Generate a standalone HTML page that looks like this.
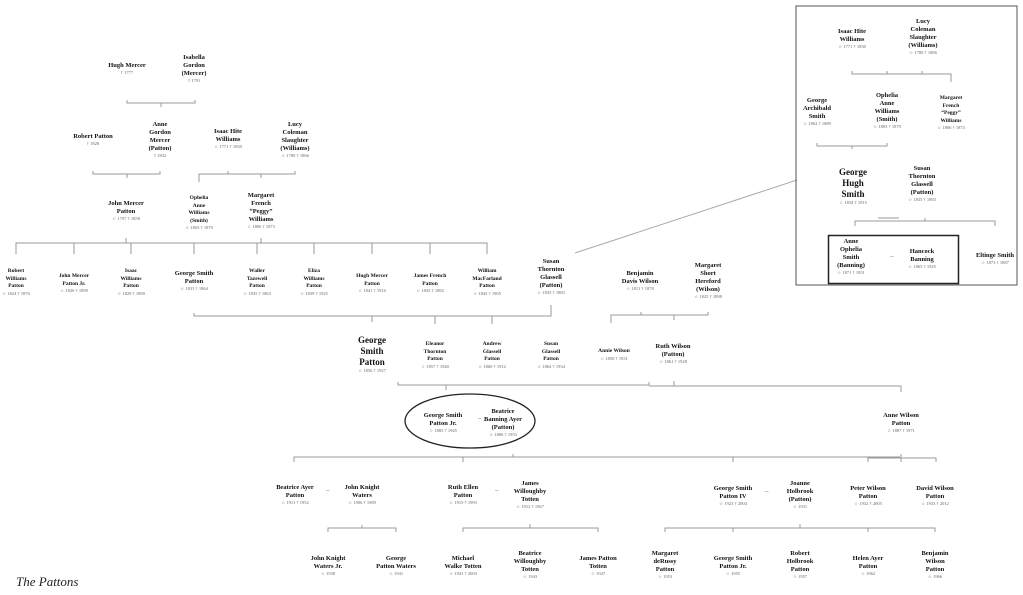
<!DOCTYPE html>
<html><head><meta charset="utf-8"><style>
body{margin:0;width:1023px;height:595px;background:#fff;position:relative;overflow:hidden;font-family:"Liberation Serif",serif}
.n{position:absolute;transform:translateX(-50%);text-align:center;white-space:nowrap;font-weight:bold;font-size:6.5px;line-height:8px;color:#111}
.n.s{font-size:5.5px;line-height:7.5px}
.n.b{font-size:9px;line-height:11px}
.n.m{font-size:7.5px;line-height:9px}
.d{display:block;font-weight:normal;font-size:4.5px;line-height:6px;color:#666}
.dash{position:absolute;font-size:7px;color:#666}
svg{position:absolute;left:0;top:0}
</style></head><body>
<svg width="1023" height="595" fill="none" stroke="#999" stroke-width="1">
<path d="M127 100V103H195V100M161 103V107"/>
<path d="M93 171V174H160V171M127 174V178"/>
<path d="M199 182V174H295V171M228 174V171M261 174V178"/>
<path d="M16 254V243H487V254M74 243V254M131 243V254M194 243V254M257 243V254M314 243V254M372 243V254M430 243V254M126 243V238M261 243V238"/>
<path d="M194 313V316H551V305M372 316V322M435 316V324M492 316V324"/>
<path d="M611 323V315H708V312M641 315V312M674 315V320"/>
<path d="M398 382V385H649V382M446 385V390M649 386H901V392M674 386V381"/>
<path d="M294 462V457H900M463 457V462M513 457V454M733 457V462M901 457V462"/>
<path d="M868 462V458H936V462M901 458V454"/>
<path d="M328 532V528H396V532M362 528V525"/>
<path d="M463 532V528H598V532M530 528V524"/>
<path d="M665 532V528H935V532M733 528V532M800 528V524M868 528V532"/>
<path d="M575 253L797 180" stroke="#aaa"/>
<rect x="796" y="6" width="221" height="279" stroke="#555"/>
<path d="M852 71V74H951V82M887 74V71M922 74V71"/>
<path d="M817 143V146H887V143M852 146V149"/>
<path d="M855 226V221H995V226M925 221V218M878 218H899"/>
<rect x="828.5" y="235.5" width="130" height="48" stroke="#222" stroke-width="1.5"/>
<ellipse cx="470" cy="421" rx="65" ry="27" stroke="#222" stroke-width="1.3"/>
</svg>

<div class="n" style="left:127px;top:62px">Hugh Mercer<span class="d">† 1777</span></div>
<div class="n" style="left:194px;top:54px">Isabella<br>Gordon<br>(Mercer)<span class="d">† 1791</span></div>
<div class="n" style="left:93px;top:133px">Robert Patton<span class="d">† 1828</span></div>
<div class="n" style="left:160px;top:121px">Anne<br>Gordon<br>Mercer<br>(Patton)<span class="d">† 1832</span></div>
<div class="n" style="left:228px;top:128px">Isaac Hite<br>Williams<span class="d">☆ 1771 † 1830</span></div>
<div class="n" style="left:295px;top:121px">Lucy<br>Coleman<br>Slaughter<br>(Williams)<span class="d">☆ 1780 † 1866</span></div>
<div class="n" style="left:126px;top:200px">John Mercer<br>Patton<span class="d">☆ 1797 † 1858</span></div>
<div class="n s" style="left:199px;top:195px">Ophelia<br>Anne<br>Williams<br>(Smith)<span class="d">☆ 1803 † 1879</span></div>
<div class="n" style="left:261px;top:192px">Margaret<br>French<br>“Peggy”<br>Williams<span class="d">☆ 1806 † 1873</span></div>

<div class="n s" style="left:16px;top:268px">Robert<br>Williams<br>Patton<span class="d">☆ 1824 † 1876</span></div>
<div class="n s" style="left:74px;top:273px">John Mercer<br>Patton Jr.<span class="d">☆ 1826 † 1899</span></div>
<div class="n s" style="left:131px;top:268px">Isaac<br>Williams<br>Patton<span class="d">☆ 1829 † 1890</span></div>
<div class="n" style="left:194px;top:270px">George Smith<br>Patton<span class="d">☆ 1833 † 1864</span></div>
<div class="n s" style="left:257px;top:268px">Waller<br>Tazewell<br>Patton<span class="d">☆ 1835 † 1863</span></div>
<div class="n s" style="left:314px;top:268px">Eliza<br>Williams<br>Patton<span class="d">☆ 1839 † 1925</span></div>
<div class="n s" style="left:372px;top:273px">Hugh Mercer<br>Patton<span class="d">☆ 1841 † 1916</span></div>
<div class="n s" style="left:430px;top:273px">James French<br>Patton<span class="d">☆ 1843 † 1882</span></div>
<div class="n s" style="left:487px;top:268px">William<br>MacFarland<br>Patton<span class="d">☆ 1845 † 1905</span></div>
<div class="n" style="left:551px;top:258px">Susan<br>Thornton<br>Glassell<br>(Patton)<span class="d">☆ 1835 † 1883</span></div>
<div class="n" style="left:640px;top:270px">Benjamin<br>Davis Wilson<span class="d">☆ 1811 † 1878</span></div>
<div class="n" style="left:708px;top:262px">Margaret<br>Short<br>Hereford<br>(Wilson)<span class="d">☆ 1825 † 1898</span></div>

<div class="n b" style="left:372px;top:335px">George<br>Smith<br>Patton<span class="d">☆ 1856 † 1927</span></div>
<div class="n s" style="left:435px;top:341px">Eleanor<br>Thornton<br>Patton<span class="d">☆ 1857 † 1940</span></div>
<div class="n s" style="left:492px;top:341px">Andrew<br>Glassell<br>Patton<span class="d">☆ 1860 † 1912</span></div>
<div class="n s" style="left:551px;top:341px">Susan<br>Glassell<br>Patton<span class="d">☆ 1864 † 1934</span></div>
<div class="n s" style="left:614px;top:348px">Annie Wilson<span class="d">☆ 1858 † 1931</span></div>
<div class="n" style="left:673px;top:343px">Ruth Wilson<br>(Patton)<span class="d">☆ 1861 † 1928</span></div>

<div class="n" style="left:443px;top:412px">George Smith<br>Patton Jr.<span class="d">☆ 1885 † 1945</span></div>
<div class="dash" style="left:478px;top:414px">–</div>
<div class="n" style="left:503px;top:408px">Beatrice<br>Banning Ayer<br>(Patton)<span class="d">☆ 1886 † 1953</span></div>
<div class="n" style="left:901px;top:412px">Anne Wilson<br>Patton<span class="d">☆ 1887 † 1971</span></div>

<div class="n" style="left:295px;top:484px">Beatrice Ayer<br>Patton<span class="d">☆ 1911 † 1952</span></div>
<div class="dash" style="left:326px;top:486px">–</div>
<div class="n" style="left:362px;top:484px">John Knight<br>Waters<span class="d">☆ 1906 † 1989</span></div>
<div class="n" style="left:463px;top:484px">Ruth Ellen<br>Patton<span class="d">☆ 1915 † 1993</span></div>
<div class="dash" style="left:495px;top:486px">–</div>
<div class="n" style="left:530px;top:480px">James<br>Willoughby<br>Totten<span class="d">☆ 1912 † 1967</span></div>
<div class="n" style="left:733px;top:485px">George Smith<br>Patton IV<span class="d">☆ 1923 † 2004</span></div>
<div class="dash" style="left:765px;top:487px">–</div>
<div class="n" style="left:800px;top:480px">Joanne<br>Holbrook<br>(Patton)<span class="d">☆ 1931</span></div>
<div class="n" style="left:868px;top:485px">Peter Wilson<br>Patton<span class="d">☆ 1932 † 2005</span></div>
<div class="n" style="left:935px;top:485px">David Wilson<br>Patton<span class="d">☆ 1933 † 2012</span></div>

<div class="n" style="left:328px;top:555px">John Knight<br>Waters Jr.<span class="d">☆ 1938</span></div>
<div class="n" style="left:396px;top:555px">George<br>Patton Waters<span class="d">☆ 1941</span></div>
<div class="n" style="left:463px;top:555px">Michael<br>Walke Totten<span class="d">☆ 1941 † 2003</span></div>
<div class="n" style="left:530px;top:550px">Beatrice<br>Willoughby<br>Totten<span class="d">☆ 1943</span></div>
<div class="n" style="left:598px;top:555px">James Patton<br>Totten<span class="d">☆ 1947</span></div>
<div class="n" style="left:665px;top:550px">Margaret<br>deRussy<br>Patton<span class="d">☆ 1953</span></div>
<div class="n" style="left:733px;top:555px">George Smith<br>Patton Jr.<span class="d">☆ 1955</span></div>
<div class="n" style="left:800px;top:550px">Robert<br>Holbrook<br>Patton<span class="d">☆ 1957</span></div>
<div class="n" style="left:868px;top:555px">Helen Ayer<br>Patton<span class="d">☆ 1962</span></div>
<div class="n" style="left:935px;top:550px">Benjamin<br>Wilson<br>Patton<span class="d">☆ 1966</span></div>

<div class="n" style="left:852px;top:28px">Isaac Hite<br>Williams<span class="d">☆ 1771 † 1830</span></div>
<div class="n" style="left:923px;top:18px">Lucy<br>Coleman<br>Slaughter<br>(Williams)<span class="d">☆ 1780 † 1866</span></div>
<div class="n" style="left:817px;top:97px">George<br>Archibald<br>Smith<span class="d">☆ 1802 † 1889</span></div>
<div class="n" style="left:887px;top:92px">Ophelia<br>Anne<br>Williams<br>(Smith)<span class="d">☆ 1803 † 1879</span></div>
<div class="n s" style="left:951px;top:95px">Margaret<br>French<br>“Peggy”<br>Williams<span class="d">☆ 1806 † 1873</span></div>
<div class="n b" style="left:853px;top:167px">George<br>Hugh<br>Smith<span class="d">☆ 1834 † 1915</span></div>
<div class="n" style="left:922px;top:165px">Susan<br>Thornton<br>Glassell<br>(Patton)<span class="d">☆ 1835 † 1883</span></div>
<div class="n" style="left:851px;top:238px">Anne<br>Ophelia<br>Smith<br>(Banning)<span class="d">☆ 1871 † 1951</span></div>
<div class="dash" style="left:890px;top:252px">–</div>
<div class="n" style="left:922px;top:248px">Hancock<br>Banning<span class="d">☆ 1865 † 1925</span></div>
<div class="n" style="left:995px;top:252px">Eltinge Smith<span class="d">☆ 1873 † 1887</span></div>

<div style="position:absolute;left:16px;top:574px;font-style:italic;font-size:13px;color:#222">The Pattons</div>
</body></html>
